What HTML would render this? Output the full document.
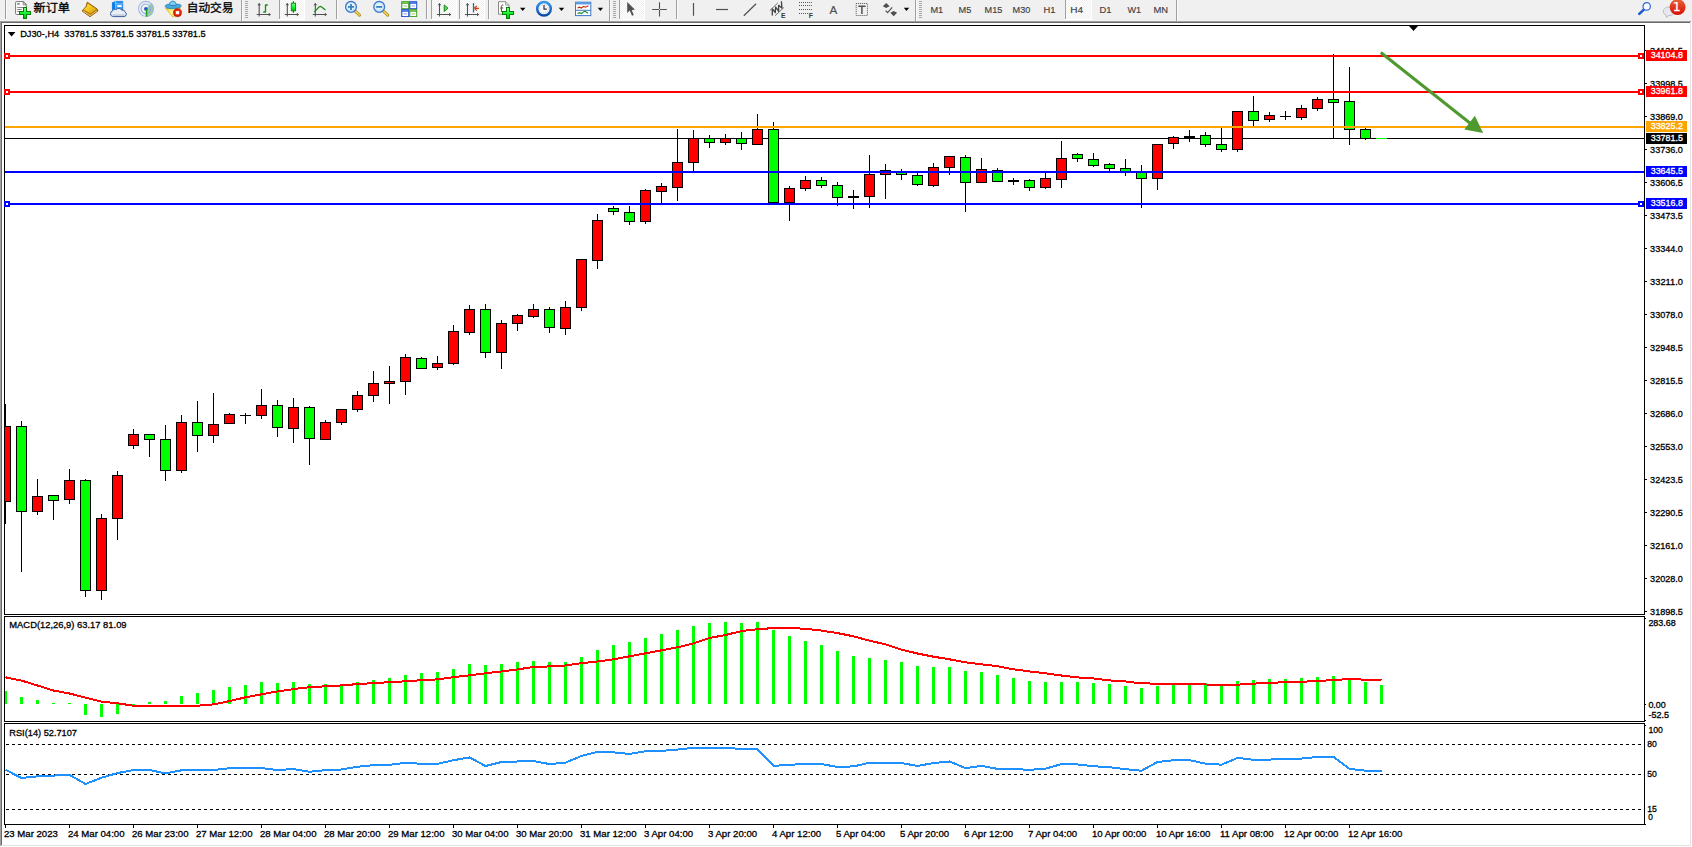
<!DOCTYPE html>
<html lang="zh"><head><meta charset="utf-8"><title>DJ30-,H4</title>
<style>html,body{margin:0;padding:0;background:#fff;overflow:hidden}svg{display:block}text{font-family:"Liberation Sans","Noto Sans CJK SC",sans-serif;white-space:pre}.c{shape-rendering:crispEdges}</style></head><body>
<svg width="1692" height="847" viewBox="0 0 1692 847">
<g class="c">
<rect x="0" y="0" width="1692" height="847" fill="#fff"/>
<rect x="0" y="0" width="1692" height="21" fill="#f0f0f0"/>
<rect x="0" y="21" width="1691" height="1" fill="#a0a0a0"/>
<rect x="0" y="21" width="1" height="825" fill="#a0a0a0"/>
<rect x="1" y="22" width="1689" height="1" fill="#696969"/>
<rect x="1" y="22" width="1" height="823" fill="#696969"/>
<rect x="1690" y="22" width="1" height="824" fill="#e3e3e3"/>
<rect x="1" y="845" width="1690" height="1" fill="#e3e3e3"/>
<rect x="4" y="25" width="1641" height="1" fill="#000"/>
<rect x="4" y="614" width="1641" height="1" fill="#000"/>
<rect x="4" y="25" width="1" height="590" fill="#000"/>
<rect x="1644" y="25" width="1" height="590" fill="#000"/>
<rect x="4" y="616" width="1641" height="1" fill="#000"/>
<rect x="4" y="721" width="1641" height="1" fill="#000"/>
<rect x="4" y="616" width="1" height="106" fill="#000"/>
<rect x="1644" y="616" width="1" height="106" fill="#000"/>
<rect x="4" y="723" width="1641" height="1" fill="#000"/>
<rect x="4" y="824" width="1641" height="1" fill="#000"/>
<rect x="4" y="723" width="1" height="102" fill="#000"/>
<rect x="1644" y="723" width="1" height="102" fill="#000"/>
<rect x="5" y="138" width="1639" height="1" fill="#000"/>
<rect x="5" y="404" width="1" height="120" fill="#000"/>
<rect x="4" y="426" width="7" height="76" fill="#000"/>
<rect x="5" y="427" width="5" height="74" fill="#ff0000"/>
<rect x="21" y="421" width="1" height="151" fill="#000"/>
<rect x="16" y="426" width="11" height="86" fill="#000"/>
<rect x="17" y="427" width="9" height="84" fill="#00ff00"/>
<rect x="37" y="479" width="1" height="36" fill="#000"/>
<rect x="32" y="496" width="11" height="16" fill="#000"/>
<rect x="33" y="497" width="9" height="14" fill="#ff0000"/>
<rect x="53" y="495" width="1" height="25" fill="#000"/>
<rect x="48" y="495" width="11" height="6" fill="#000"/>
<rect x="49" y="496" width="9" height="4" fill="#00ff00"/>
<rect x="69" y="469" width="1" height="35" fill="#000"/>
<rect x="64" y="480" width="11" height="20" fill="#000"/>
<rect x="65" y="481" width="9" height="18" fill="#ff0000"/>
<rect x="85" y="479" width="1" height="118" fill="#000"/>
<rect x="80" y="480" width="11" height="111" fill="#000"/>
<rect x="81" y="481" width="9" height="109" fill="#00ff00"/>
<rect x="101" y="514" width="1" height="86" fill="#000"/>
<rect x="96" y="518" width="11" height="73" fill="#000"/>
<rect x="97" y="519" width="9" height="71" fill="#ff0000"/>
<rect x="117" y="471" width="1" height="69" fill="#000"/>
<rect x="112" y="475" width="11" height="44" fill="#000"/>
<rect x="113" y="476" width="9" height="42" fill="#ff0000"/>
<rect x="133" y="429" width="1" height="20" fill="#000"/>
<rect x="128" y="434" width="11" height="12" fill="#000"/>
<rect x="129" y="435" width="9" height="10" fill="#ff0000"/>
<rect x="149" y="434" width="1" height="23" fill="#000"/>
<rect x="144" y="434" width="11" height="6" fill="#000"/>
<rect x="145" y="435" width="9" height="4" fill="#00ff00"/>
<rect x="165" y="425" width="1" height="56" fill="#000"/>
<rect x="160" y="439" width="11" height="32" fill="#000"/>
<rect x="161" y="440" width="9" height="30" fill="#00ff00"/>
<rect x="181" y="415" width="1" height="58" fill="#000"/>
<rect x="176" y="422" width="11" height="49" fill="#000"/>
<rect x="177" y="423" width="9" height="47" fill="#ff0000"/>
<rect x="197" y="401" width="1" height="51" fill="#000"/>
<rect x="192" y="422" width="11" height="14" fill="#000"/>
<rect x="193" y="423" width="9" height="12" fill="#00ff00"/>
<rect x="213" y="393" width="1" height="50" fill="#000"/>
<rect x="208" y="424" width="11" height="12" fill="#000"/>
<rect x="209" y="425" width="9" height="10" fill="#ff0000"/>
<rect x="229" y="413" width="1" height="11" fill="#000"/>
<rect x="224" y="414" width="11" height="10" fill="#000"/>
<rect x="225" y="415" width="9" height="8" fill="#ff0000"/>
<rect x="245" y="413" width="1" height="11" fill="#000"/>
<rect x="240" y="415" width="11" height="1" fill="#000"/>
<rect x="261" y="389" width="1" height="30" fill="#000"/>
<rect x="256" y="405" width="11" height="11" fill="#000"/>
<rect x="257" y="406" width="9" height="9" fill="#ff0000"/>
<rect x="277" y="400" width="1" height="37" fill="#000"/>
<rect x="272" y="405" width="11" height="23" fill="#000"/>
<rect x="273" y="406" width="9" height="21" fill="#00ff00"/>
<rect x="293" y="398" width="1" height="45" fill="#000"/>
<rect x="288" y="407" width="11" height="22" fill="#000"/>
<rect x="289" y="408" width="9" height="20" fill="#ff0000"/>
<rect x="309" y="406" width="1" height="59" fill="#000"/>
<rect x="304" y="407" width="11" height="32" fill="#000"/>
<rect x="305" y="408" width="9" height="30" fill="#00ff00"/>
<rect x="325" y="420" width="1" height="20" fill="#000"/>
<rect x="320" y="422" width="11" height="18" fill="#000"/>
<rect x="321" y="423" width="9" height="16" fill="#ff0000"/>
<rect x="341" y="409" width="1" height="16" fill="#000"/>
<rect x="336" y="409" width="11" height="14" fill="#000"/>
<rect x="337" y="410" width="9" height="12" fill="#ff0000"/>
<rect x="357" y="391" width="1" height="21" fill="#000"/>
<rect x="352" y="395" width="11" height="15" fill="#000"/>
<rect x="353" y="396" width="9" height="13" fill="#ff0000"/>
<rect x="373" y="371" width="1" height="31" fill="#000"/>
<rect x="368" y="383" width="11" height="13" fill="#000"/>
<rect x="369" y="384" width="9" height="11" fill="#ff0000"/>
<rect x="389" y="366" width="1" height="38" fill="#000"/>
<rect x="384" y="381" width="11" height="3" fill="#000"/>
<rect x="385" y="382" width="9" height="1" fill="#ff0000"/>
<rect x="405" y="354" width="1" height="41" fill="#000"/>
<rect x="400" y="357" width="11" height="25" fill="#000"/>
<rect x="401" y="358" width="9" height="23" fill="#ff0000"/>
<rect x="421" y="357" width="1" height="12" fill="#000"/>
<rect x="416" y="358" width="11" height="11" fill="#000"/>
<rect x="417" y="359" width="9" height="9" fill="#00ff00"/>
<rect x="437" y="356" width="1" height="14" fill="#000"/>
<rect x="432" y="363" width="11" height="5" fill="#000"/>
<rect x="433" y="364" width="9" height="3" fill="#ff0000"/>
<rect x="453" y="325" width="1" height="40" fill="#000"/>
<rect x="448" y="331" width="11" height="33" fill="#000"/>
<rect x="449" y="332" width="9" height="31" fill="#ff0000"/>
<rect x="469" y="305" width="1" height="30" fill="#000"/>
<rect x="464" y="309" width="11" height="24" fill="#000"/>
<rect x="465" y="310" width="9" height="22" fill="#ff0000"/>
<rect x="485" y="304" width="1" height="54" fill="#000"/>
<rect x="480" y="309" width="11" height="44" fill="#000"/>
<rect x="481" y="310" width="9" height="42" fill="#00ff00"/>
<rect x="501" y="320" width="1" height="49" fill="#000"/>
<rect x="496" y="323" width="11" height="30" fill="#000"/>
<rect x="497" y="324" width="9" height="28" fill="#ff0000"/>
<rect x="517" y="314" width="1" height="17" fill="#000"/>
<rect x="512" y="315" width="11" height="9" fill="#000"/>
<rect x="513" y="316" width="9" height="7" fill="#ff0000"/>
<rect x="533" y="304" width="1" height="14" fill="#000"/>
<rect x="528" y="309" width="11" height="8" fill="#000"/>
<rect x="529" y="310" width="9" height="6" fill="#ff0000"/>
<rect x="549" y="307" width="1" height="26" fill="#000"/>
<rect x="544" y="309" width="11" height="19" fill="#000"/>
<rect x="545" y="310" width="9" height="17" fill="#00ff00"/>
<rect x="565" y="301" width="1" height="34" fill="#000"/>
<rect x="560" y="307" width="11" height="22" fill="#000"/>
<rect x="561" y="308" width="9" height="20" fill="#ff0000"/>
<rect x="581" y="259" width="1" height="52" fill="#000"/>
<rect x="576" y="259" width="11" height="49" fill="#000"/>
<rect x="577" y="260" width="9" height="47" fill="#ff0000"/>
<rect x="597" y="214" width="1" height="55" fill="#000"/>
<rect x="592" y="220" width="11" height="41" fill="#000"/>
<rect x="593" y="221" width="9" height="39" fill="#ff0000"/>
<rect x="613" y="206" width="1" height="9" fill="#000"/>
<rect x="608" y="208" width="11" height="4" fill="#000"/>
<rect x="609" y="209" width="9" height="2" fill="#00ff00"/>
<rect x="629" y="206" width="1" height="19" fill="#000"/>
<rect x="624" y="212" width="11" height="10" fill="#000"/>
<rect x="625" y="213" width="9" height="8" fill="#00ff00"/>
<rect x="645" y="189" width="1" height="35" fill="#000"/>
<rect x="640" y="190" width="11" height="32" fill="#000"/>
<rect x="641" y="191" width="9" height="30" fill="#ff0000"/>
<rect x="661" y="183" width="1" height="20" fill="#000"/>
<rect x="656" y="186" width="11" height="6" fill="#000"/>
<rect x="657" y="187" width="9" height="4" fill="#ff0000"/>
<rect x="677" y="129" width="1" height="72" fill="#000"/>
<rect x="672" y="162" width="11" height="26" fill="#000"/>
<rect x="673" y="163" width="9" height="24" fill="#ff0000"/>
<rect x="693" y="130" width="1" height="41" fill="#000"/>
<rect x="688" y="138" width="11" height="25" fill="#000"/>
<rect x="689" y="139" width="9" height="23" fill="#ff0000"/>
<rect x="709" y="135" width="1" height="13" fill="#000"/>
<rect x="704" y="138" width="11" height="5" fill="#000"/>
<rect x="705" y="139" width="9" height="3" fill="#00ff00"/>
<rect x="725" y="134" width="1" height="11" fill="#000"/>
<rect x="720" y="138" width="11" height="5" fill="#000"/>
<rect x="721" y="139" width="9" height="3" fill="#ff0000"/>
<rect x="741" y="132" width="1" height="18" fill="#000"/>
<rect x="736" y="138" width="11" height="6" fill="#000"/>
<rect x="737" y="139" width="9" height="4" fill="#00ff00"/>
<rect x="757" y="114" width="1" height="31" fill="#000"/>
<rect x="752" y="129" width="11" height="16" fill="#000"/>
<rect x="753" y="130" width="9" height="14" fill="#ff0000"/>
<rect x="773" y="122" width="1" height="81" fill="#000"/>
<rect x="768" y="129" width="11" height="74" fill="#000"/>
<rect x="769" y="130" width="9" height="72" fill="#00ff00"/>
<rect x="789" y="186" width="1" height="35" fill="#000"/>
<rect x="784" y="188" width="11" height="15" fill="#000"/>
<rect x="785" y="189" width="9" height="13" fill="#ff0000"/>
<rect x="805" y="176" width="1" height="15" fill="#000"/>
<rect x="800" y="180" width="11" height="9" fill="#000"/>
<rect x="801" y="181" width="9" height="7" fill="#ff0000"/>
<rect x="821" y="177" width="1" height="11" fill="#000"/>
<rect x="816" y="180" width="11" height="6" fill="#000"/>
<rect x="817" y="181" width="9" height="4" fill="#00ff00"/>
<rect x="837" y="182" width="1" height="24" fill="#000"/>
<rect x="832" y="185" width="11" height="13" fill="#000"/>
<rect x="833" y="186" width="9" height="11" fill="#00ff00"/>
<rect x="853" y="190" width="1" height="19" fill="#000"/>
<rect x="848" y="196" width="11" height="2" fill="#000"/>
<rect x="869" y="155" width="1" height="53" fill="#000"/>
<rect x="864" y="174" width="11" height="23" fill="#000"/>
<rect x="865" y="175" width="9" height="21" fill="#ff0000"/>
<rect x="885" y="164" width="1" height="35" fill="#000"/>
<rect x="880" y="170" width="11" height="5" fill="#000"/>
<rect x="881" y="171" width="9" height="3" fill="#ff0000"/>
<rect x="901" y="169" width="1" height="11" fill="#000"/>
<rect x="896" y="172" width="11" height="3" fill="#000"/>
<rect x="897" y="173" width="9" height="1" fill="#00ff00"/>
<rect x="917" y="173" width="1" height="13" fill="#000"/>
<rect x="912" y="175" width="11" height="10" fill="#000"/>
<rect x="913" y="176" width="9" height="8" fill="#00ff00"/>
<rect x="933" y="163" width="1" height="24" fill="#000"/>
<rect x="928" y="167" width="11" height="19" fill="#000"/>
<rect x="929" y="168" width="9" height="17" fill="#ff0000"/>
<rect x="949" y="156" width="1" height="19" fill="#000"/>
<rect x="944" y="156" width="11" height="12" fill="#000"/>
<rect x="945" y="157" width="9" height="10" fill="#ff0000"/>
<rect x="965" y="155" width="1" height="57" fill="#000"/>
<rect x="960" y="157" width="11" height="26" fill="#000"/>
<rect x="961" y="158" width="9" height="24" fill="#00ff00"/>
<rect x="981" y="158" width="1" height="25" fill="#000"/>
<rect x="976" y="169" width="11" height="14" fill="#000"/>
<rect x="977" y="170" width="9" height="12" fill="#ff0000"/>
<rect x="997" y="168" width="1" height="14" fill="#000"/>
<rect x="992" y="170" width="11" height="12" fill="#000"/>
<rect x="993" y="171" width="9" height="10" fill="#00ff00"/>
<rect x="1013" y="178" width="1" height="7" fill="#000"/>
<rect x="1008" y="180" width="11" height="2" fill="#000"/>
<rect x="1029" y="179" width="1" height="12" fill="#000"/>
<rect x="1024" y="180" width="11" height="8" fill="#000"/>
<rect x="1025" y="181" width="9" height="6" fill="#00ff00"/>
<rect x="1045" y="173" width="1" height="16" fill="#000"/>
<rect x="1040" y="178" width="11" height="10" fill="#000"/>
<rect x="1041" y="179" width="9" height="8" fill="#ff0000"/>
<rect x="1061" y="141" width="1" height="47" fill="#000"/>
<rect x="1056" y="158" width="11" height="22" fill="#000"/>
<rect x="1057" y="159" width="9" height="20" fill="#ff0000"/>
<rect x="1077" y="153" width="1" height="9" fill="#000"/>
<rect x="1072" y="154" width="11" height="5" fill="#000"/>
<rect x="1073" y="155" width="9" height="3" fill="#00ff00"/>
<rect x="1093" y="153" width="1" height="14" fill="#000"/>
<rect x="1088" y="159" width="11" height="7" fill="#000"/>
<rect x="1089" y="160" width="9" height="5" fill="#00ff00"/>
<rect x="1109" y="163" width="1" height="8" fill="#000"/>
<rect x="1104" y="164" width="11" height="5" fill="#000"/>
<rect x="1105" y="165" width="9" height="3" fill="#00ff00"/>
<rect x="1125" y="159" width="1" height="17" fill="#000"/>
<rect x="1120" y="168" width="11" height="4" fill="#000"/>
<rect x="1121" y="169" width="9" height="2" fill="#00ff00"/>
<rect x="1141" y="165" width="1" height="43" fill="#000"/>
<rect x="1136" y="172" width="11" height="7" fill="#000"/>
<rect x="1137" y="173" width="9" height="5" fill="#00ff00"/>
<rect x="1157" y="144" width="1" height="46" fill="#000"/>
<rect x="1152" y="144" width="11" height="35" fill="#000"/>
<rect x="1153" y="145" width="9" height="33" fill="#ff0000"/>
<rect x="1173" y="136" width="1" height="13" fill="#000"/>
<rect x="1168" y="137" width="11" height="7" fill="#000"/>
<rect x="1169" y="138" width="9" height="5" fill="#ff0000"/>
<rect x="1189" y="130" width="1" height="12" fill="#000"/>
<rect x="1184" y="136" width="11" height="2" fill="#000"/>
<rect x="1205" y="132" width="1" height="15" fill="#000"/>
<rect x="1200" y="135" width="11" height="10" fill="#000"/>
<rect x="1201" y="136" width="9" height="8" fill="#00ff00"/>
<rect x="1221" y="128" width="1" height="24" fill="#000"/>
<rect x="1216" y="144" width="11" height="6" fill="#000"/>
<rect x="1217" y="145" width="9" height="4" fill="#00ff00"/>
<rect x="1237" y="111" width="1" height="41" fill="#000"/>
<rect x="1232" y="111" width="11" height="39" fill="#000"/>
<rect x="1233" y="112" width="9" height="37" fill="#ff0000"/>
<rect x="1253" y="96" width="1" height="30" fill="#000"/>
<rect x="1248" y="111" width="11" height="10" fill="#000"/>
<rect x="1249" y="112" width="9" height="8" fill="#00ff00"/>
<rect x="1269" y="112" width="1" height="10" fill="#000"/>
<rect x="1264" y="115" width="11" height="5" fill="#000"/>
<rect x="1265" y="116" width="9" height="3" fill="#ff0000"/>
<rect x="1285" y="111" width="1" height="9" fill="#000"/>
<rect x="1280" y="116" width="11" height="1" fill="#000"/>
<rect x="1301" y="105" width="1" height="15" fill="#000"/>
<rect x="1296" y="108" width="11" height="10" fill="#000"/>
<rect x="1297" y="109" width="9" height="8" fill="#ff0000"/>
<rect x="1317" y="97" width="1" height="14" fill="#000"/>
<rect x="1312" y="99" width="11" height="10" fill="#000"/>
<rect x="1313" y="100" width="9" height="8" fill="#ff0000"/>
<rect x="1333" y="54" width="1" height="84" fill="#000"/>
<rect x="1328" y="99" width="11" height="4" fill="#000"/>
<rect x="1329" y="100" width="9" height="2" fill="#00ff00"/>
<rect x="1349" y="67" width="1" height="78" fill="#000"/>
<rect x="1344" y="101" width="11" height="29" fill="#000"/>
<rect x="1345" y="102" width="9" height="27" fill="#00ff00"/>
<rect x="1365" y="128" width="1" height="12" fill="#000"/>
<rect x="1360" y="129" width="11" height="10" fill="#000"/>
<rect x="1361" y="130" width="9" height="8" fill="#00ff00"/>
<rect x="1376" y="138" width="11" height="1" fill="#00ff00"/>
<rect x="5" y="55" width="1639" height="2" fill="#ff0000"/>
<rect x="4" y="53" width="6" height="6" fill="#ff0000"/>
<rect x="6" y="55" width="2" height="2" fill="#fff"/>
<rect x="1638" y="53" width="6" height="6" fill="#ff0000"/>
<rect x="1640" y="55" width="2" height="2" fill="#fff"/>
<rect x="5" y="91" width="1639" height="2" fill="#ff0000"/>
<rect x="4" y="89" width="6" height="6" fill="#ff0000"/>
<rect x="6" y="91" width="2" height="2" fill="#fff"/>
<rect x="1638" y="89" width="6" height="6" fill="#ff0000"/>
<rect x="1640" y="91" width="2" height="2" fill="#fff"/>
<rect x="5" y="126" width="1639" height="2" fill="#ffa500"/>
<rect x="5" y="171" width="1639" height="2" fill="#0000ff"/>
<rect x="5" y="203" width="1639" height="2" fill="#0000ff"/>
<rect x="4" y="201" width="6" height="6" fill="#0000ff"/>
<rect x="6" y="203" width="2" height="2" fill="#fff"/>
<rect x="1638" y="201" width="6" height="6" fill="#0000ff"/>
<rect x="1640" y="203" width="2" height="2" fill="#fff"/>
<path d="M1409 26h9l-4.5 5z" fill="#000" shape-rendering="geometricPrecision"/>
<rect x="5" y="691" width="2" height="13" fill="#00ff00"/>
<rect x="20" y="697" width="3" height="7" fill="#00ff00"/>
<rect x="36" y="700" width="3" height="4" fill="#00ff00"/>
<rect x="52" y="703" width="3" height="1" fill="#00ff00"/>
<rect x="68" y="703" width="3" height="1" fill="#00ff00"/>
<rect x="84" y="704" width="3" height="11" fill="#00ff00"/>
<rect x="100" y="704" width="3" height="13" fill="#00ff00"/>
<rect x="116" y="704" width="3" height="10" fill="#00ff00"/>
<rect x="132" y="704" width="3" height="3" fill="#00ff00"/>
<rect x="148" y="702" width="3" height="2" fill="#00ff00"/>
<rect x="164" y="701" width="3" height="3" fill="#00ff00"/>
<rect x="180" y="696" width="3" height="8" fill="#00ff00"/>
<rect x="196" y="693" width="3" height="11" fill="#00ff00"/>
<rect x="212" y="690" width="3" height="14" fill="#00ff00"/>
<rect x="228" y="687" width="3" height="17" fill="#00ff00"/>
<rect x="244" y="685" width="3" height="19" fill="#00ff00"/>
<rect x="260" y="682" width="3" height="22" fill="#00ff00"/>
<rect x="276" y="683" width="3" height="21" fill="#00ff00"/>
<rect x="292" y="682" width="3" height="22" fill="#00ff00"/>
<rect x="308" y="684" width="3" height="20" fill="#00ff00"/>
<rect x="324" y="684" width="3" height="20" fill="#00ff00"/>
<rect x="340" y="684" width="3" height="20" fill="#00ff00"/>
<rect x="356" y="682" width="3" height="22" fill="#00ff00"/>
<rect x="372" y="680" width="3" height="24" fill="#00ff00"/>
<rect x="388" y="678" width="3" height="26" fill="#00ff00"/>
<rect x="404" y="675" width="3" height="29" fill="#00ff00"/>
<rect x="420" y="673" width="3" height="31" fill="#00ff00"/>
<rect x="436" y="672" width="3" height="32" fill="#00ff00"/>
<rect x="452" y="669" width="3" height="35" fill="#00ff00"/>
<rect x="468" y="664" width="3" height="40" fill="#00ff00"/>
<rect x="484" y="665" width="3" height="39" fill="#00ff00"/>
<rect x="500" y="664" width="3" height="40" fill="#00ff00"/>
<rect x="516" y="662" width="3" height="42" fill="#00ff00"/>
<rect x="532" y="661" width="3" height="43" fill="#00ff00"/>
<rect x="548" y="662" width="3" height="42" fill="#00ff00"/>
<rect x="564" y="662" width="3" height="42" fill="#00ff00"/>
<rect x="580" y="657" width="3" height="47" fill="#00ff00"/>
<rect x="596" y="650" width="3" height="54" fill="#00ff00"/>
<rect x="612" y="645" width="3" height="59" fill="#00ff00"/>
<rect x="628" y="642" width="3" height="62" fill="#00ff00"/>
<rect x="644" y="638" width="3" height="66" fill="#00ff00"/>
<rect x="660" y="634" width="3" height="70" fill="#00ff00"/>
<rect x="676" y="630" width="3" height="74" fill="#00ff00"/>
<rect x="692" y="626" width="3" height="78" fill="#00ff00"/>
<rect x="708" y="623" width="3" height="81" fill="#00ff00"/>
<rect x="724" y="622" width="3" height="82" fill="#00ff00"/>
<rect x="740" y="623" width="3" height="81" fill="#00ff00"/>
<rect x="756" y="622" width="3" height="82" fill="#00ff00"/>
<rect x="772" y="630" width="3" height="74" fill="#00ff00"/>
<rect x="788" y="636" width="3" height="68" fill="#00ff00"/>
<rect x="804" y="641" width="3" height="63" fill="#00ff00"/>
<rect x="820" y="645" width="3" height="59" fill="#00ff00"/>
<rect x="836" y="651" width="3" height="53" fill="#00ff00"/>
<rect x="852" y="656" width="3" height="48" fill="#00ff00"/>
<rect x="868" y="658" width="3" height="46" fill="#00ff00"/>
<rect x="884" y="660" width="3" height="44" fill="#00ff00"/>
<rect x="900" y="662" width="3" height="42" fill="#00ff00"/>
<rect x="916" y="666" width="3" height="38" fill="#00ff00"/>
<rect x="932" y="667" width="3" height="37" fill="#00ff00"/>
<rect x="948" y="667" width="3" height="37" fill="#00ff00"/>
<rect x="964" y="671" width="3" height="33" fill="#00ff00"/>
<rect x="980" y="672" width="3" height="32" fill="#00ff00"/>
<rect x="996" y="675" width="3" height="29" fill="#00ff00"/>
<rect x="1012" y="678" width="3" height="26" fill="#00ff00"/>
<rect x="1028" y="681" width="3" height="23" fill="#00ff00"/>
<rect x="1044" y="682" width="3" height="22" fill="#00ff00"/>
<rect x="1060" y="682" width="3" height="22" fill="#00ff00"/>
<rect x="1076" y="682" width="3" height="22" fill="#00ff00"/>
<rect x="1092" y="683" width="3" height="21" fill="#00ff00"/>
<rect x="1108" y="684" width="3" height="20" fill="#00ff00"/>
<rect x="1124" y="686" width="3" height="18" fill="#00ff00"/>
<rect x="1140" y="688" width="3" height="16" fill="#00ff00"/>
<rect x="1156" y="686" width="3" height="18" fill="#00ff00"/>
<rect x="1172" y="684" width="3" height="20" fill="#00ff00"/>
<rect x="1188" y="684" width="3" height="20" fill="#00ff00"/>
<rect x="1204" y="683" width="3" height="21" fill="#00ff00"/>
<rect x="1220" y="685" width="3" height="19" fill="#00ff00"/>
<rect x="1236" y="681" width="3" height="23" fill="#00ff00"/>
<rect x="1252" y="680" width="3" height="24" fill="#00ff00"/>
<rect x="1268" y="679" width="3" height="25" fill="#00ff00"/>
<rect x="1284" y="679" width="3" height="25" fill="#00ff00"/>
<rect x="1300" y="678" width="3" height="26" fill="#00ff00"/>
<rect x="1316" y="677" width="3" height="27" fill="#00ff00"/>
<rect x="1332" y="676" width="3" height="28" fill="#00ff00"/>
<rect x="1348" y="680" width="3" height="24" fill="#00ff00"/>
<rect x="1364" y="682" width="3" height="22" fill="#00ff00"/>
<rect x="1380" y="685" width="3" height="19" fill="#00ff00"/>
<polyline points="5.5,677.3 21.5,680.6 37.5,685.5 53.5,690.5 69.5,693.5 85.5,697.6 101.5,701.6 117.5,703.3 133.5,705.7 149.5,705.7 165.5,705.7 181.5,705.7 197.5,705.7 213.5,704.4 229.5,701.1 245.5,697.3 261.5,694.3 277.5,691.4 293.5,689.1 309.5,687.2 325.5,686.3 341.5,685.4 357.5,684.1 373.5,683.1 389.5,682.2 405.5,681.3 421.5,680.2 437.5,679.4 453.5,677.2 469.5,675.3 485.5,673.3 501.5,671.4 517.5,669.4 533.5,667.0 549.5,666.4 565.5,665.5 581.5,663.2 597.5,661.5 613.5,659.3 629.5,656.3 645.5,653.3 661.5,650.3 677.5,647.3 693.5,643.4 709.5,638.0 725.5,635.0 741.5,631.1 757.5,629.2 773.5,628.1 789.5,628.1 805.5,628.7 821.5,630.6 837.5,633.1 853.5,636.3 869.5,640.7 885.5,644.3 901.5,649.6 917.5,653.5 933.5,656.7 949.5,659.3 965.5,662.3 981.5,664.3 997.5,666.2 1013.5,669.3 1029.5,671.4 1045.5,673.3 1061.5,675.5 1077.5,677.4 1093.5,678.5 1109.5,680.4 1125.5,681.5 1141.5,683.4 1157.5,683.6 1173.5,683.6 1189.5,683.6 1205.5,684.5 1221.5,684.7 1237.5,684.7 1253.5,683.6 1269.5,682.9 1285.5,682.2 1301.5,681.8 1317.5,681.0 1333.5,680.1 1349.5,679.0 1365.5,679.7 1381.5,680.1" fill="none" stroke="#ff0000" stroke-width="2"/>
<path d="M6 744.5H1642" stroke="#000" stroke-width="1" stroke-dasharray="3 3" fill="none"/>
<path d="M6 774.5H1642" stroke="#000" stroke-width="1" stroke-dasharray="3 3" fill="none"/>
<path d="M6 809.5H1642" stroke="#000" stroke-width="1" stroke-dasharray="3 3" fill="none"/>
<polyline points="5.5,769.8 21.5,778.0 37.5,776.4 53.5,775.6 69.5,774.8 85.5,784.0 101.5,777.7 117.5,773.1 133.5,770.0 149.5,770.0 165.5,773.4 181.5,770.3 197.5,770.0 213.5,770.0 229.5,768.2 245.5,768.1 261.5,768.1 277.5,770.1 293.5,769.0 309.5,771.8 325.5,770.1 341.5,769.5 357.5,766.8 373.5,765.2 389.5,764.8 405.5,762.8 421.5,763.8 437.5,763.8 453.5,760.2 469.5,757.4 485.5,766.0 501.5,762.0 517.5,761.5 533.5,761.0 549.5,764.1 565.5,762.6 581.5,756.0 597.5,751.9 613.5,752.4 629.5,753.9 645.5,751.2 661.5,750.9 677.5,749.6 693.5,747.7 709.5,747.7 725.5,747.7 741.5,749.1 757.5,749.1 773.5,765.9 789.5,764.8 805.5,764.0 821.5,764.1 837.5,766.9 853.5,766.4 869.5,762.8 885.5,762.8 901.5,763.1 917.5,765.9 933.5,763.1 949.5,761.5 965.5,768.1 981.5,765.8 997.5,768.9 1013.5,768.9 1029.5,769.9 1045.5,768.6 1061.5,764.1 1077.5,764.5 1093.5,766.2 1109.5,767.2 1125.5,769.2 1141.5,770.7 1157.5,762.0 1173.5,760.2 1189.5,760.2 1205.5,763.6 1221.5,764.7 1237.5,757.9 1253.5,759.8 1269.5,759.6 1285.5,758.8 1301.5,758.6 1317.5,756.9 1333.5,756.9 1349.5,768.9 1365.5,770.7 1381.5,770.7" fill="none" stroke="#1e90ff" stroke-width="2"/>
<rect x="1645" y="50" width="2" height="1" fill="#000"/>
<rect x="1645" y="83" width="2" height="1" fill="#000"/>
<rect x="1645" y="116" width="2" height="1" fill="#000"/>
<rect x="1645" y="149" width="2" height="1" fill="#000"/>
<rect x="1645" y="182" width="2" height="1" fill="#000"/>
<rect x="1645" y="215" width="2" height="1" fill="#000"/>
<rect x="1645" y="248" width="2" height="1" fill="#000"/>
<rect x="1645" y="281" width="2" height="1" fill="#000"/>
<rect x="1645" y="314" width="2" height="1" fill="#000"/>
<rect x="1645" y="347" width="2" height="1" fill="#000"/>
<rect x="1645" y="380" width="2" height="1" fill="#000"/>
<rect x="1645" y="413" width="2" height="1" fill="#000"/>
<rect x="1645" y="446" width="2" height="1" fill="#000"/>
<rect x="1645" y="479" width="2" height="1" fill="#000"/>
<rect x="1645" y="512" width="2" height="1" fill="#000"/>
<rect x="1645" y="545" width="2" height="1" fill="#000"/>
<rect x="1645" y="578" width="2" height="1" fill="#000"/>
<rect x="1645" y="611" width="2" height="1" fill="#000"/>
<rect x="1645" y="618" width="1" height="1" fill="#000"/>
<rect x="1645" y="704" width="1" height="1" fill="#000"/>
<rect x="1645" y="720" width="1" height="1" fill="#000"/>
<rect x="1645" y="725" width="1" height="1" fill="#000"/>
<rect x="1645" y="824" width="1" height="1" fill="#000"/>
<rect x="5" y="825" width="1" height="3" fill="#000"/>
<rect x="69" y="825" width="1" height="3" fill="#000"/>
<rect x="133" y="825" width="1" height="3" fill="#000"/>
<rect x="197" y="825" width="1" height="3" fill="#000"/>
<rect x="261" y="825" width="1" height="3" fill="#000"/>
<rect x="325" y="825" width="1" height="3" fill="#000"/>
<rect x="389" y="825" width="1" height="3" fill="#000"/>
<rect x="453" y="825" width="1" height="3" fill="#000"/>
<rect x="517" y="825" width="1" height="3" fill="#000"/>
<rect x="581" y="825" width="1" height="3" fill="#000"/>
<rect x="645" y="825" width="1" height="3" fill="#000"/>
<rect x="709" y="825" width="1" height="3" fill="#000"/>
<rect x="773" y="825" width="1" height="3" fill="#000"/>
<rect x="837" y="825" width="1" height="3" fill="#000"/>
<rect x="901" y="825" width="1" height="3" fill="#000"/>
<rect x="965" y="825" width="1" height="3" fill="#000"/>
<rect x="1029" y="825" width="1" height="3" fill="#000"/>
<rect x="1093" y="825" width="1" height="3" fill="#000"/>
<rect x="1157" y="825" width="1" height="3" fill="#000"/>
<rect x="1221" y="825" width="1" height="3" fill="#000"/>
<rect x="1285" y="825" width="1" height="3" fill="#000"/>
<rect x="1349" y="825" width="1" height="3" fill="#000"/>
</g>
<g>
<text x="1650.1" y="53.6" font-size="9.4" fill="#000" stroke="#000" stroke-width="0.3" textLength="32.8" lengthAdjust="spacingAndGlyphs">34131.5</text>
<text x="1650.1" y="86.6" font-size="9.4" fill="#000" stroke="#000" stroke-width="0.3" textLength="32.8" lengthAdjust="spacingAndGlyphs">33998.5</text>
<text x="1650.1" y="119.6" font-size="9.4" fill="#000" stroke="#000" stroke-width="0.3" textLength="32.8" lengthAdjust="spacingAndGlyphs">33869.0</text>
<text x="1650.1" y="152.6" font-size="9.4" fill="#000" stroke="#000" stroke-width="0.3" textLength="32.8" lengthAdjust="spacingAndGlyphs">33736.0</text>
<text x="1650.1" y="185.6" font-size="9.4" fill="#000" stroke="#000" stroke-width="0.3" textLength="32.8" lengthAdjust="spacingAndGlyphs">33606.5</text>
<text x="1650.1" y="218.6" font-size="9.4" fill="#000" stroke="#000" stroke-width="0.3" textLength="32.8" lengthAdjust="spacingAndGlyphs">33473.5</text>
<text x="1650.1" y="251.6" font-size="9.4" fill="#000" stroke="#000" stroke-width="0.3" textLength="32.8" lengthAdjust="spacingAndGlyphs">33344.0</text>
<text x="1650.1" y="284.6" font-size="9.4" fill="#000" stroke="#000" stroke-width="0.3" textLength="32.8" lengthAdjust="spacingAndGlyphs">33211.0</text>
<text x="1650.1" y="317.6" font-size="9.4" fill="#000" stroke="#000" stroke-width="0.3" textLength="32.8" lengthAdjust="spacingAndGlyphs">33078.0</text>
<text x="1650.1" y="350.6" font-size="9.4" fill="#000" stroke="#000" stroke-width="0.3" textLength="32.8" lengthAdjust="spacingAndGlyphs">32948.5</text>
<text x="1650.1" y="383.6" font-size="9.4" fill="#000" stroke="#000" stroke-width="0.3" textLength="32.8" lengthAdjust="spacingAndGlyphs">32815.5</text>
<text x="1650.1" y="416.6" font-size="9.4" fill="#000" stroke="#000" stroke-width="0.3" textLength="32.8" lengthAdjust="spacingAndGlyphs">32686.0</text>
<text x="1650.1" y="449.6" font-size="9.4" fill="#000" stroke="#000" stroke-width="0.3" textLength="32.8" lengthAdjust="spacingAndGlyphs">32553.0</text>
<text x="1650.1" y="482.6" font-size="9.4" fill="#000" stroke="#000" stroke-width="0.3" textLength="32.8" lengthAdjust="spacingAndGlyphs">32423.5</text>
<text x="1650.1" y="515.6" font-size="9.4" fill="#000" stroke="#000" stroke-width="0.3" textLength="32.8" lengthAdjust="spacingAndGlyphs">32290.5</text>
<text x="1650.1" y="548.6" font-size="9.4" fill="#000" stroke="#000" stroke-width="0.3" textLength="32.8" lengthAdjust="spacingAndGlyphs">32161.0</text>
<text x="1650.1" y="581.6" font-size="9.4" fill="#000" stroke="#000" stroke-width="0.3" textLength="32.8" lengthAdjust="spacingAndGlyphs">32028.0</text>
<text x="1650.1" y="614.6" font-size="9.4" fill="#000" stroke="#000" stroke-width="0.3" textLength="32.8" lengthAdjust="spacingAndGlyphs">31898.5</text>
</g>
<g class="c">
<rect x="1646" y="50" width="41" height="11" fill="#ff0000"/>
<rect x="1646" y="86" width="41" height="11" fill="#ff0000"/>
<rect x="1646" y="121" width="41" height="11" fill="#ffa500"/>
<rect x="1646" y="133" width="41" height="11" fill="#000"/>
<rect x="1646" y="166" width="41" height="11" fill="#0000ff"/>
<rect x="1646" y="198" width="41" height="11" fill="#0000ff"/>
</g><g>
<text x="1650.7" y="58.1" font-size="9.4" fill="#fff" stroke="#fff" stroke-width="0.3" textLength="32.2" lengthAdjust="spacingAndGlyphs">34104.8</text>
<text x="1650.7" y="94.1" font-size="9.4" fill="#fff" stroke="#fff" stroke-width="0.3" textLength="32.2" lengthAdjust="spacingAndGlyphs">33961.8</text>
<text x="1650.7" y="129.1" font-size="9.4" fill="#fff" stroke="#fff" stroke-width="0.3" textLength="32.2" lengthAdjust="spacingAndGlyphs">33825.2</text>
<text x="1650.7" y="141.1" font-size="9.4" fill="#fff" stroke="#fff" stroke-width="0.3" textLength="32.2" lengthAdjust="spacingAndGlyphs">33781.5</text>
<text x="1650.7" y="174.1" font-size="9.4" fill="#fff" stroke="#fff" stroke-width="0.3" textLength="32.2" lengthAdjust="spacingAndGlyphs">33645.5</text>
<text x="1650.7" y="206.1" font-size="9.4" fill="#fff" stroke="#fff" stroke-width="0.3" textLength="32.2" lengthAdjust="spacingAndGlyphs">33516.8</text>
<text x="1648.4" y="626.3" font-size="9.4" fill="#000" stroke="#000" stroke-width="0.3" textLength="27.4" lengthAdjust="spacingAndGlyphs">283.68</text>
<text x="1648.4" y="707.5" font-size="9.4" fill="#000" stroke="#000" stroke-width="0.3" textLength="17.4" lengthAdjust="spacingAndGlyphs">0.00</text>
<text x="1648.4" y="717.6" font-size="9.4" fill="#000" stroke="#000" stroke-width="0.3" textLength="20.6" lengthAdjust="spacingAndGlyphs">-52.5</text>
<text x="1648.4" y="733.4" font-size="9.4" fill="#000" stroke="#000" stroke-width="0.3" textLength="14.4" lengthAdjust="spacingAndGlyphs">100</text>
<text x="1647.2" y="747.4" font-size="9.4" fill="#000" stroke="#000" stroke-width="0.3" textLength="9.6" lengthAdjust="spacingAndGlyphs">80</text>
<text x="1647.2" y="777.2" font-size="9.4" fill="#000" stroke="#000" stroke-width="0.3" textLength="9.6" lengthAdjust="spacingAndGlyphs">50</text>
<text x="1647.2" y="812.4" font-size="9.4" fill="#000" stroke="#000" stroke-width="0.3" textLength="9.6" lengthAdjust="spacingAndGlyphs">15</text>
<text x="1648.2" y="820.4" font-size="9.4" fill="#000" stroke="#000" stroke-width="0.3" textLength="4.6" lengthAdjust="spacingAndGlyphs">0</text>
<text x="20.2" y="36.5" font-size="9.4" fill="#000" stroke="#000" stroke-width="0.3" textLength="185.5" lengthAdjust="spacingAndGlyphs">DJ30-,H4  33781.5 33781.5 33781.5 33781.5</text>
<path d="M7.8 32h7.6l-3.8 4.4z" fill="#000"/>
<text x="9.3" y="628.4" font-size="9.4" fill="#000" stroke="#000" stroke-width="0.3" textLength="117.3" lengthAdjust="spacingAndGlyphs">MACD(12,26,9) 63.17 81.09</text>
<text x="9.3" y="735.7" font-size="9.4" fill="#000" stroke="#000" stroke-width="0.3" textLength="67.7" lengthAdjust="spacingAndGlyphs">RSI(14) 52.7107</text>
<text x="4" y="836.6" font-size="9.6" fill="#000" stroke="#000" stroke-width="0.3">23 Mar 2023</text>
<text x="68" y="836.6" font-size="9.6" fill="#000" stroke="#000" stroke-width="0.3">24 Mar 04:00</text>
<text x="132" y="836.6" font-size="9.6" fill="#000" stroke="#000" stroke-width="0.3">26 Mar 23:00</text>
<text x="196" y="836.6" font-size="9.6" fill="#000" stroke="#000" stroke-width="0.3">27 Mar 12:00</text>
<text x="260" y="836.6" font-size="9.6" fill="#000" stroke="#000" stroke-width="0.3">28 Mar 04:00</text>
<text x="324" y="836.6" font-size="9.6" fill="#000" stroke="#000" stroke-width="0.3">28 Mar 20:00</text>
<text x="388" y="836.6" font-size="9.6" fill="#000" stroke="#000" stroke-width="0.3">29 Mar 12:00</text>
<text x="452" y="836.6" font-size="9.6" fill="#000" stroke="#000" stroke-width="0.3">30 Mar 04:00</text>
<text x="516" y="836.6" font-size="9.6" fill="#000" stroke="#000" stroke-width="0.3">30 Mar 20:00</text>
<text x="580" y="836.6" font-size="9.6" fill="#000" stroke="#000" stroke-width="0.3">31 Mar 12:00</text>
<text x="644" y="836.6" font-size="9.6" fill="#000" stroke="#000" stroke-width="0.3">3 Apr 04:00</text>
<text x="708" y="836.6" font-size="9.6" fill="#000" stroke="#000" stroke-width="0.3">3 Apr 20:00</text>
<text x="772" y="836.6" font-size="9.6" fill="#000" stroke="#000" stroke-width="0.3">4 Apr 12:00</text>
<text x="836" y="836.6" font-size="9.6" fill="#000" stroke="#000" stroke-width="0.3">5 Apr 04:00</text>
<text x="900" y="836.6" font-size="9.6" fill="#000" stroke="#000" stroke-width="0.3">5 Apr 20:00</text>
<text x="964" y="836.6" font-size="9.6" fill="#000" stroke="#000" stroke-width="0.3">6 Apr 12:00</text>
<text x="1028" y="836.6" font-size="9.6" fill="#000" stroke="#000" stroke-width="0.3">7 Apr 04:00</text>
<text x="1092" y="836.6" font-size="9.6" fill="#000" stroke="#000" stroke-width="0.3">10 Apr 00:00</text>
<text x="1156" y="836.6" font-size="9.6" fill="#000" stroke="#000" stroke-width="0.3">10 Apr 16:00</text>
<text x="1220" y="836.6" font-size="9.6" fill="#000" stroke="#000" stroke-width="0.3">11 Apr 08:00</text>
<text x="1284" y="836.6" font-size="9.6" fill="#000" stroke="#000" stroke-width="0.3">12 Apr 00:00</text>
<text x="1348" y="836.6" font-size="9.6" fill="#000" stroke="#000" stroke-width="0.3">12 Apr 16:00</text>
</g>
<g fill="#4e9a2e" stroke="none">
<path d="M1380.8 52.5L1470.5 123.5" stroke="#4e9a2e" stroke-width="3" fill="none"/>
<path d="M1483.1 133.1L1474.9 115.8L1464.3 129.4z"/>
</g>
<g id="toolbar">
<defs><linearGradient id="gGreen" x1="0" y1="0" x2="0" y2="1"><stop offset="0" stop-color="#7cff8c"/><stop offset="0.55" stop-color="#10f030"/><stop offset="1" stop-color="#00c010"/></linearGradient><linearGradient id="gGold" x1="0" y1="0" x2="1" y2="1"><stop offset="0" stop-color="#ffe84a"/><stop offset="0.5" stop-color="#f2c41c"/><stop offset="1" stop-color="#d89a14"/></linearGradient><linearGradient id="gBlue" x1="0" y1="0" x2="0" y2="1"><stop offset="0" stop-color="#5aa8f0"/><stop offset="1" stop-color="#1c5fc8"/></linearGradient><linearGradient id="gRed" x1="0" y1="0" x2="0" y2="1"><stop offset="0" stop-color="#e8643c"/><stop offset="1" stop-color="#d60c00"/></linearGradient><linearGradient id="gBlue2" x1="0" y1="0" x2="0" y2="1"><stop offset="0" stop-color="#3a98f0"/><stop offset="1" stop-color="#0a48a8"/></linearGradient><linearGradient id="gFace" x1="0" y1="0" x2="1" y2="0.300"><stop offset="0" stop-color="#f4c828"/><stop offset="0.500" stop-color="#fff890"/><stop offset="1" stop-color="#f0c020"/></linearGradient><radialGradient id="gStop" cx="0.600" cy="0.400" r="0.700"><stop offset="0" stop-color="#ff4010"/><stop offset="1" stop-color="#c81400"/></radialGradient><radialGradient id="gLens" cx="0.5" cy="0.4" r="0.6"><stop offset="0" stop-color="#f4fbff"/><stop offset="1" stop-color="#bfe0f8"/></radialGradient><pattern id="chk" width="2" height="2" patternUnits="userSpaceOnUse"><rect width="2" height="2" fill="#ffffff"/><rect width="1" height="1" fill="#f0f0f0"/><rect x="1" y="1" width="1" height="1" fill="#f0f0f0"/></pattern></defs>
<rect class="c" x="5" y="0" width="1" height="19" fill="#a0a0a0"/>
<rect class="c" x="6" y="0" width="1" height="19" fill="#fbfbfb"/>
<g><path d="M16.6 1.6h6.9l2.800 2.800v9.400q0 0.700-0.700 0.700h-9q-1 0-1-1v-10.900q0-1 1-1z" fill="#fff" stroke="#757575" stroke-width="1"/><path d="M23.2 1.700v3.100h3.100z" fill="#f4f4f4" stroke="#757575" stroke-width="0.900"/><path d="M17.200 3.900h2.600" stroke="#808080" stroke-width="1.600"/><path d="M17.200 7.500h7.400M17.200 9.500h4.500M17.200 11.500h3" stroke="#8a8a8a" stroke-width="1"/><path class="c" d="M23 7h4v4h4v4h-4v4h-4v-4h-4v-4h4z" fill="#008200"/><path class="c" d="M24 8h2v4h4v2h-4v4h-2v-4h-4v-2h4z" fill="url(#gGreen)"/></g>
<text x="33.600" y="11.600" font-size="11.400" fill="#000" stroke="#000" stroke-width="0.300" textLength="36.400" lengthAdjust="spacingAndGlyphs">新订单</text>
<g><path d="M87.300 2.200L97.300 9.200L97.900 11L90 16.700L82.100 11L86 6.500z" fill="#b87818" stroke="#9a5c08" stroke-width="1" stroke-linejoin="round"/><path d="M87.800 3.400L96.300 9.300L90.300 13.600L83.800 9.500L86.600 6.800z" fill="url(#gGold)"/><path d="M83 10.600L90.200 15.300L96.800 10.500L97 11.200L90.100 16L82.800 11.200z" fill="#f4dc80"/></g>
<g><path d="M112.400 2.600l3.200-1.300h7.200v8.500h-10.400z" fill="#1e90f0" stroke="#1478e0" stroke-width="0.600"/><path d="M112.400 2.600l3.300 1.300v6h-3.300z" fill="#0a78e8"/><path d="M115.700 3.900h7.100" stroke="#bfe2ff" stroke-width="0.600"/><path d="M115.700 1.500v8" stroke="#d8eeff" stroke-width="0.700"/><rect x="117.200" y="5" width="4.600" height="2.200" fill="#e8f6ff"/><path d="M113.200 16.600a3 3 0 0 1-0.400-5.900a2.200 2.200 0 0 1 3.400-1.100a3.300 3.300 0 0 1 5.600 0.600a2.400 2.400 0 0 1 3.200 1.700a2.500 2.500 0 0 1-1 4.700z" fill="#e9edf5" stroke="#3c5c9c" stroke-width="1"/><path d="M112.300 14.200h12.800a2 2 0 0 1-1.500 1.900h-10.200a2.400 2.400 0 0 1-1.100-1.900z" fill="#c4cee0"/></g>
<g fill="none"><path d="M145.900 8.800L151.600 3.100A8.100 8.100 0 0 1 146.400 16.900z" fill="#58b058" opacity="0.550"/><circle cx="145.900" cy="8.800" r="7.400" stroke="#9cb4e8" stroke-width="1.100" opacity="0.900"/><circle cx="145.900" cy="8.800" r="4.800" stroke="#88a4e4" stroke-width="1.100" opacity="0.900"/><circle cx="145.900" cy="8.800" r="1.900" fill="#2458d4"/><path d="M146.500 9.200V16.700" stroke="#18a018" stroke-width="1.400"/></g>
<g><path d="M165.600 8.200L180.700 7.500L173.800 16.900L172.600 16.900z" fill="url(#gFace)" stroke="#e0a818" stroke-width="0.700"/><path d="M165.200 6.500c-0.300-1.500 2-2.200 4-2.300c3 1.800 5.500 1.800 7.800 0c2 0 4 0.300 4.100 1.400c0.100 1.800-3.900 3.100-8.300 3.100c-4 0-7.300-0.700-7.600-2.200z" fill="#46a8e0" stroke="#1f7fae" stroke-width="0.800"/><path d="M169.200 4.600c0.300-2 1.600-3.500 3.600-3.500s3.300 1.500 3.600 3.500c-1 1.300-6 1.400-7.200 0z" fill="#7ccaf2" stroke="#1f7fae" stroke-width="0.800"/><circle cx="177.500" cy="12.700" r="4" fill="url(#gStop)" stroke="#b81400" stroke-width="0.700"/><rect x="175.800" y="11.100" width="3.300" height="3.100" fill="#fff"/></g>
<text x="186.700" y="11.600" font-size="11.400" fill="#000" stroke="#000" stroke-width="0.300" textLength="46.800" lengthAdjust="spacingAndGlyphs">自动交易</text>
<rect class="c" x="241" y="0" width="1" height="21" fill="#a0a0a0"/>
<rect class="c" x="242" y="0" width="1" height="21" fill="#fbfbfb"/>
<rect class="c" x="245" y="1" width="3" height="1" fill="#a8a8a8"/>
<rect class="c" x="245" y="3" width="3" height="1" fill="#a8a8a8"/>
<rect class="c" x="245" y="5" width="3" height="1" fill="#a8a8a8"/>
<rect class="c" x="245" y="7" width="3" height="1" fill="#a8a8a8"/>
<rect class="c" x="245" y="9" width="3" height="1" fill="#a8a8a8"/>
<rect class="c" x="245" y="11" width="3" height="1" fill="#a8a8a8"/>
<rect class="c" x="245" y="13" width="3" height="1" fill="#a8a8a8"/>
<rect class="c" x="245" y="15" width="3" height="1" fill="#a8a8a8"/>
<rect class="c" x="245" y="17" width="3" height="1" fill="#a8a8a8"/>
<g stroke="#505050" stroke-width="1.1" fill="none"><path d="M259.2 3.5V16.5M256.7 14.5H270.2"/></g><path d="M257.4 5.3l1.8-2.3l1.8 2.3zM268.7 12.7l2.3 1.8l-2.3 1.8z" fill="#505050"/>
<path d="M265.500 4.500V12.500M265.500 5h2.300M263.200 12h2.300" stroke="#109010" stroke-width="1.300" fill="none"/>
<rect class="c" x="279" y="0" width="25" height="19" fill="url(#chk)"/>
<rect class="c" x="279" y="0" width="1" height="19" fill="#a0a0a0"/>
<rect class="c" x="304" y="0" width="1" height="20" fill="#ffffff"/>
<rect class="c" x="279" y="19" width="25" height="1" fill="#ffffff"/>
<g stroke="#505050" stroke-width="1.1" fill="none"><path d="M287.3 3.5V16.5M284.8 14.5H298.3"/></g><path d="M285.5 5.3l1.8-2.3l1.8 2.3zM296.8 12.7l2.3 1.8l-2.3 1.8z" fill="#505050"/>
<path d="M293.400 1.200V12.800" stroke="#108010" stroke-width="1.200"/><rect x="291.300" y="3.200" width="4.300" height="7.600" fill="url(#gGreen)" stroke="#108010" stroke-width="0.900"/>
<g stroke="#505050" stroke-width="1.1" fill="none"><path d="M315.3 3.5V16.5M312.8 14.5H326.3"/></g><path d="M313.5 5.3l1.8-2.3l1.8 2.3zM324.8 12.7l2.3 1.8l-2.3 1.8z" fill="#505050"/>
<path d="M314 12c2.500-1 4-5.500 6.300-5.600c1.800 0 3.500 3 5.300 3.600" stroke="#209020" stroke-width="1.300" fill="none"/>
<rect class="c" x="336" y="0" width="1" height="19" fill="#a0a0a0"/>
<rect class="c" x="337" y="0" width="1" height="19" fill="#fbfbfb"/>
<path d="M355.2 11.100l4.300 4.100" stroke="#b89020" stroke-width="3" stroke-linecap="round"/><path d="M355.4 11.300l3.900 3.700" stroke="#f0d860" stroke-width="1.400" stroke-linecap="round"/><circle cx="351" cy="6.900" r="5.400" fill="url(#gLens)" stroke="#3a78d0" stroke-width="1.300"/>
<path d="M348 6.900h6M351 3.900v6" stroke="#3a80b8" stroke-width="1.800"/>
<path d="M383.4 11.100l4.300 4.100" stroke="#b89020" stroke-width="3" stroke-linecap="round"/><path d="M383.59999999999997 11.300l3.900 3.700" stroke="#f0d860" stroke-width="1.400" stroke-linecap="round"/><circle cx="379.2" cy="6.900" r="5.400" fill="url(#gLens)" stroke="#3a78d0" stroke-width="1.300"/>
<path d="M376.2 6.900h6" stroke="#3a80b8" stroke-width="1.800"/>
<g><rect x="401.200" y="1.200" width="8" height="7.900" fill="#3f9a20"/><rect x="409.200" y="1.200" width="8" height="7.900" fill="#1c4cc8"/><rect x="401.200" y="9.100" width="8" height="7.900" fill="#1c4cc8"/><rect x="409.200" y="9.100" width="8" height="7.900" fill="#3f9a20"/><rect x="402.100" y="2" width="6.400" height="1.300" fill="#6cc848"/><rect x="410.100" y="2" width="6.400" height="1.300" fill="#4c80f0"/><rect x="402.100" y="9.900" width="6.400" height="1.300" fill="#4c80f0"/><rect x="410.100" y="9.900" width="6.400" height="1.300" fill="#6cc848"/><rect x="402.300" y="3.800" width="5.900" height="4.400" fill="#fff"/><rect x="410.300" y="3.800" width="5.900" height="4.400" fill="#fff"/><rect x="402.300" y="11.700" width="5.900" height="4.400" fill="#fff"/><rect x="410.300" y="11.700" width="5.900" height="4.400" fill="#fff"/><path d="M403.400 6h3.700M411.400 13.900h3.700" stroke="#90d070" stroke-width="1"/><path d="M411.400 6h3.700M403.400 13.900h3.700" stroke="#88a8f0" stroke-width="1"/></g>
<rect class="c" x="426" y="0" width="1" height="19" fill="#a0a0a0"/>
<rect class="c" x="427" y="0" width="1" height="19" fill="#fbfbfb"/>
<rect class="c" x="431" y="0" width="25" height="19" fill="url(#chk)"/>
<rect class="c" x="431" y="0" width="1" height="19" fill="#a0a0a0"/>
<rect class="c" x="456" y="0" width="1" height="20" fill="#ffffff"/>
<rect class="c" x="431" y="19" width="25" height="1" fill="#ffffff"/>
<g stroke="#505050" stroke-width="1.1" fill="none"><path d="M439.5 3.5V16.5M437 14.5H450.5"/></g><path d="M437.7 5.3l1.8-2.3l1.8 2.3zM449 12.7l2.3 1.8l-2.3 1.8z" fill="#505050"/>
<path d="M444.200 4.900l3.800 3.300l-3.800 3.300z" fill="#60d860" stroke="#109010" stroke-width="1"/>
<rect class="c" x="459" y="0" width="25" height="19" fill="url(#chk)"/>
<rect class="c" x="459" y="0" width="1" height="19" fill="#a0a0a0"/>
<rect class="c" x="484" y="0" width="1" height="20" fill="#ffffff"/>
<rect class="c" x="459" y="19" width="25" height="1" fill="#ffffff"/>
<g stroke="#505050" stroke-width="1.1" fill="none"><path d="M467.5 3.5V16.5M465 14.5H478.5"/></g><path d="M465.7 5.3l1.8-2.3l1.8 2.3zM477 12.7l2.3 1.8l-2.3 1.8z" fill="#505050"/>
<path d="M473.500 3V12.500" stroke="#2070a0" stroke-width="1.300"/><path d="M474.500 8.300h4.500M474.300 8.300l2.600-2.300M474.300 8.300l2.600 2.300" stroke="#d04010" stroke-width="1.200" fill="none"/>
<rect class="c" x="488" y="0" width="1" height="19" fill="#a0a0a0"/>
<rect class="c" x="489" y="0" width="1" height="19" fill="#fbfbfb"/>
<g><path d="M498.500 1.700h7.300l3.200 3.200v9.300h-10.500z" fill="#fff" stroke="#8a8a8a" stroke-width="1"/><path d="M505.600 1.800v3.200h3.300" fill="#e8e8e8" stroke="#8a8a8a" stroke-width="0.800"/><path d="M503.400 5c-1.400-0.300-2 0.400-2 1.600v5.500M500.200 8h3" stroke="#605030" stroke-width="1" fill="none"/><path class="c" d="M506 7h4v4h4v4h-4v4h-4v-4h-4v-4h4z" fill="#008200"/><path class="c" d="M507 8h2v4h4v2h-4v4h-2v-4h-4v-2h4z" fill="url(#gGreen)"/></g>
<path d="M520 7.8h5.4l-2.7 3.2z" fill="#000"/>
<g><circle cx="544" cy="8.800" r="6.800" fill="#f6f9fc" stroke="url(#gBlue2)" stroke-width="2.500"/><circle cx="544" cy="8.800" r="4.300" fill="none" stroke="#a8b4c4" stroke-width="1" stroke-dasharray="0.700 1.550"/><path d="M544 5v4.200h2.800" stroke="#303030" stroke-width="1.200" fill="none"/></g>
<path d="M558.8 7.8h5.4l-2.7 3.2z" fill="#000"/>
<g><rect x="575.500" y="2.200" width="15.300" height="13.400" fill="#fff" stroke="#3c78c8" stroke-width="1"/><rect x="575.500" y="2.200" width="15.300" height="2.200" fill="#5a98e0"/><path d="M575.500 10.300h15.300" stroke="#3c78c8" stroke-width="1"/><path d="M577.500 8l2-0.800l2 0.800l2-1.600l2 0.800l3-1.400" stroke="#c03010" stroke-width="1.200" fill="none"/><path d="M577.500 13.500l2-0.800l2 0.800l2-1.600l1.500-0.800l3 2.200" stroke="#209030" stroke-width="1.200" fill="none"/></g>
<path d="M597.7 7.8h5.4l-2.7 3.2z" fill="#000"/>
<rect class="c" x="609" y="0" width="1" height="21" fill="#a0a0a0"/>
<rect class="c" x="610" y="0" width="1" height="21" fill="#fbfbfb"/>
<rect class="c" x="613" y="1" width="3" height="1" fill="#a8a8a8"/>
<rect class="c" x="613" y="3" width="3" height="1" fill="#a8a8a8"/>
<rect class="c" x="613" y="5" width="3" height="1" fill="#a8a8a8"/>
<rect class="c" x="613" y="7" width="3" height="1" fill="#a8a8a8"/>
<rect class="c" x="613" y="9" width="3" height="1" fill="#a8a8a8"/>
<rect class="c" x="613" y="11" width="3" height="1" fill="#a8a8a8"/>
<rect class="c" x="613" y="13" width="3" height="1" fill="#a8a8a8"/>
<rect class="c" x="613" y="15" width="3" height="1" fill="#a8a8a8"/>
<rect class="c" x="613" y="17" width="3" height="1" fill="#a8a8a8"/>
<rect class="c" x="619" y="0" width="25" height="19" fill="url(#chk)"/>
<rect class="c" x="619" y="0" width="1" height="19" fill="#a0a0a0"/>
<rect class="c" x="644" y="0" width="1" height="20" fill="#ffffff"/>
<rect class="c" x="619" y="19" width="25" height="1" fill="#ffffff"/>
<path d="M627.200 1.900V12.900L629.800 10.400L632 15.800L633.800 15.100L631.700 10L635 9.700z" fill="#505050"/>
<path d="M659.500 2.300V16.500M652.200 9.500H666.800" stroke="#505050" stroke-width="1.100"/><rect x="659" y="9" width="1" height="1" fill="#f0f0f0"/>
<rect class="c" x="676" y="0" width="1" height="19" fill="#a0a0a0"/>
<rect class="c" x="677" y="0" width="1" height="19" fill="#fbfbfb"/>
<path d="M693.500 3V15.800" stroke="#505050" stroke-width="1.200"/>
<path d="M716 9.500H728" stroke="#505050" stroke-width="1.200"/>
<path d="M743.800 15.800L756.100 3.800" stroke="#505050" stroke-width="1.200"/>
<g fill="none"><path d="M769.800 10.600L777.700 3.100M775.100 15.700L783.900 7.500" stroke="#606060" stroke-width="0.900"/><path d="M772.300 15.600V8.800L775.300 12.500L775.600 7.200L778.600 11.200V5.300L781.900 8L781.400 1.200" stroke="#404040" stroke-width="1.300" stroke-linejoin="round"/></g>
<text x="780.900" y="18" font-size="6.800" font-weight="bold" fill="#383838">E</text>
<g stroke="#505050" stroke-width="1" stroke-dasharray="1 1.030" fill="none"><path d="M799 2.500h13M799 5.500h13M799 9.500h13M799 13.500h9.500"/></g>
<text x="808.700" y="18" font-size="6.800" font-weight="bold" fill="#383838">F</text>
<text x="829.600" y="13.800" font-size="11.600" fill="#505050" stroke="#505050" stroke-width="0.200">A</text>
<rect x="856.200" y="3.500" width="11.200" height="12" fill="none" stroke="#505050" stroke-width="1" stroke-dasharray="1 1"/>
<path d="M858.300 6.200h7.200M861.900 6.200v7.800" stroke="#505050" stroke-width="1.500" fill="none"/>
<path d="M882.800 6.300l3.400-3.400l3.400 3.400l-3.400 1.600zM890.300 12.700l3.400-1.600l3.400 1.600l-3.400 3.600z" fill="#505050"/><path d="M885.600 10.600l2 2l4.600-5.200" stroke="#505050" stroke-width="1.200" fill="none"/>
<path d="M903.8 7.8h5.4l-2.7 3.2z" fill="#000"/>
<rect class="c" x="915" y="0" width="1" height="21" fill="#a0a0a0"/>
<rect class="c" x="916" y="0" width="1" height="21" fill="#fbfbfb"/>
<rect class="c" x="919" y="1" width="3" height="1" fill="#a8a8a8"/>
<rect class="c" x="919" y="3" width="3" height="1" fill="#a8a8a8"/>
<rect class="c" x="919" y="5" width="3" height="1" fill="#a8a8a8"/>
<rect class="c" x="919" y="7" width="3" height="1" fill="#a8a8a8"/>
<rect class="c" x="919" y="9" width="3" height="1" fill="#a8a8a8"/>
<rect class="c" x="919" y="11" width="3" height="1" fill="#a8a8a8"/>
<rect class="c" x="919" y="13" width="3" height="1" fill="#a8a8a8"/>
<rect class="c" x="919" y="15" width="3" height="1" fill="#a8a8a8"/>
<rect class="c" x="919" y="17" width="3" height="1" fill="#a8a8a8"/>
<rect class="c" x="1065" y="0" width="26" height="19" fill="url(#chk)"/>
<rect class="c" x="1065" y="0" width="1" height="19" fill="#a0a0a0"/>
<rect class="c" x="1091" y="0" width="1" height="20" fill="#ffffff"/>
<rect class="c" x="1065" y="19" width="26" height="1" fill="#ffffff"/>
<text x="930.4" y="12.700" font-size="9.600" fill="#404040" stroke="#404040" stroke-width="0.150" textLength="12.8" lengthAdjust="spacingAndGlyphs">M1</text>
<text x="958.5" y="12.700" font-size="9.600" fill="#404040" stroke="#404040" stroke-width="0.150" textLength="12.8" lengthAdjust="spacingAndGlyphs">M5</text>
<text x="984.6" y="12.700" font-size="9.600" fill="#404040" stroke="#404040" stroke-width="0.150" textLength="17.8" lengthAdjust="spacingAndGlyphs">M15</text>
<text x="1012.6" y="12.700" font-size="9.600" fill="#404040" stroke="#404040" stroke-width="0.150" textLength="17.8" lengthAdjust="spacingAndGlyphs">M30</text>
<text x="1043.6" y="12.700" font-size="9.600" fill="#404040" stroke="#404040" stroke-width="0.150" textLength="12" lengthAdjust="spacingAndGlyphs">H1</text>
<text x="1070.2" y="12.700" font-size="9.600" fill="#404040" stroke="#404040" stroke-width="0.150" textLength="12.8" lengthAdjust="spacingAndGlyphs">H4</text>
<text x="1099.5" y="12.700" font-size="9.600" fill="#404040" stroke="#404040" stroke-width="0.150" textLength="12" lengthAdjust="spacingAndGlyphs">D1</text>
<text x="1127.5" y="12.700" font-size="9.600" fill="#404040" stroke="#404040" stroke-width="0.150" textLength="13.6" lengthAdjust="spacingAndGlyphs">W1</text>
<text x="1153.5" y="12.700" font-size="9.600" fill="#404040" stroke="#404040" stroke-width="0.150" textLength="14.6" lengthAdjust="spacingAndGlyphs">MN</text>
<rect class="c" x="1176" y="0" width="1" height="21" fill="#a0a0a0"/>
<rect class="c" x="1177" y="0" width="1" height="21" fill="#fbfbfb"/>
<path d="M1643.800 9.600l-4.500 4.300" stroke="#1c58d0" stroke-width="2.600" stroke-linecap="round"/><circle cx="1646.700" cy="6.400" r="3.700" fill="#fafcff" stroke="#2a66dc" stroke-width="1.200"/>
<path d="M1663.300 11.300a5.700 4.400 0 1 1 5.700 4.400l-1 0l-1.500 2l-0.300-2.300a5.700 4.400 0 0 1-2.900-4.100z" fill="#e6e8f0" stroke="#b4b4b8" stroke-width="0.800"/>
<circle cx="1677.600" cy="7.100" r="8" fill="url(#gRed)"/>
<text x="1676.700" y="11.200" font-size="12.500" fill="#fff" stroke="#fff" stroke-width="0.250" text-anchor="middle" style="font-family:'DejaVu Sans','Liberation Sans',sans-serif">1</text>
</g>
</svg></body></html>
